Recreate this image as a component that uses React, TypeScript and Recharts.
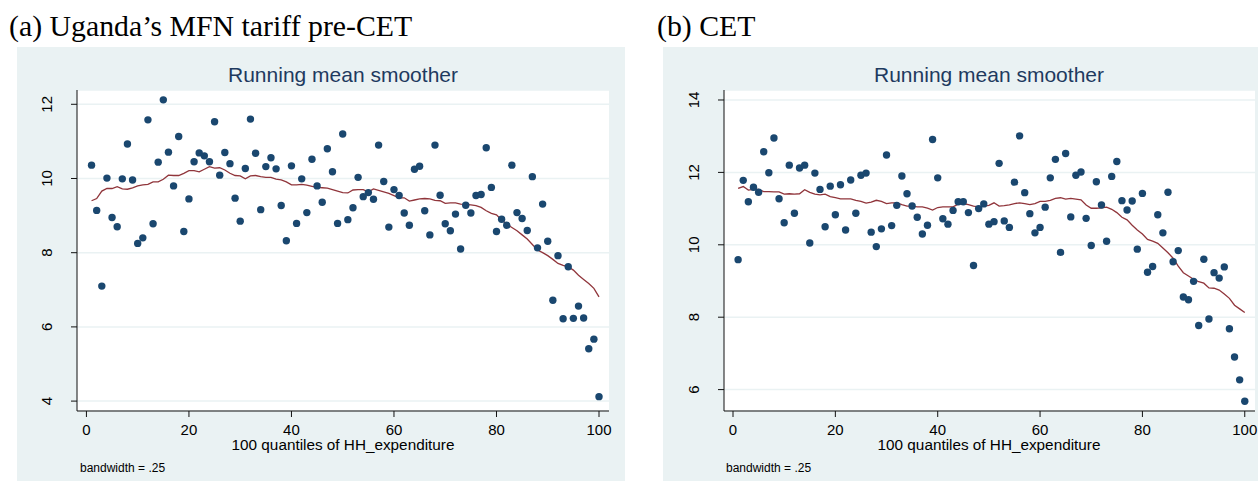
import React from "react";
import { ComposedChart, Scatter, Line, XAxis, YAxis, CartesianGrid } from "recharts";

const QUANTILES = [1,2,3,4,5,6,7,8,9,10,11,12,13,14,15,16,17,18,19,20,21,22,23,24,25,26,27,28,29,30,31,32,33,34,35,36,37,38,39,40,41,42,43,44,45,46,47,48,49,50,51,52,53,54,55,56,57,58,59,60,61,62,63,64,65,66,67,68,69,70,71,72,73,74,75,76,77,78,79,80,81,82,83,84,85,86,87,88,89,90,91,92,93,94,95,96,97,98,99,100];

const MFN_DOTS = [10.36,9.14,7.10,10.01,8.95,8.70,9.99,10.93,9.96,8.25,8.40,11.58,8.78,10.44,12.12,10.71,9.80,11.13,8.57,9.45,10.45,10.69,10.61,10.45,11.53,10.09,10.70,10.40,9.47,8.85,10.27,11.60,10.68,9.16,10.32,10.56,10.26,9.27,8.32,10.34,8.79,9.99,9.08,10.52,9.80,9.36,10.80,10.18,8.79,11.20,8.89,9.21,10.03,9.51,9.62,9.44,10.90,9.92,8.69,9.70,9.54,9.07,8.74,10.25,10.33,9.13,8.48,10.90,9.55,8.78,8.59,9.04,8.10,9.28,9.07,9.54,9.57,10.83,9.76,8.57,8.90,8.74,10.36,9.08,8.92,8.60,10.05,8.13,9.31,8.31,6.72,7.92,6.22,7.62,6.23,6.56,6.24,5.41,5.67,4.12];

const MFN_SMOOTH = [9.40,9.46,9.66,9.73,9.73,9.78,9.72,9.71,9.75,9.80,9.83,9.84,9.91,9.91,9.98,10.09,10.08,10.08,10.14,10.21,10.21,10.18,10.25,10.32,10.28,10.29,10.23,10.14,10.08,10.07,9.99,10.07,10.08,10.05,10.03,10.03,9.98,9.96,9.91,9.83,9.83,9.84,9.82,9.79,9.76,9.75,9.74,9.70,9.66,9.62,9.61,9.69,9.70,9.70,9.64,9.72,9.68,9.64,9.60,9.54,9.48,9.48,9.39,9.42,9.45,9.46,9.45,9.41,9.40,9.33,9.34,9.34,9.31,9.30,9.29,9.27,9.22,9.13,9.06,9.02,8.88,8.77,8.68,8.59,8.48,8.37,8.22,8.07,8.00,7.92,7.82,7.71,7.66,7.62,7.53,7.39,7.28,7.17,7.04,6.81];

const CET_DOTS = [9.59,11.78,11.19,11.59,11.45,12.57,11.99,12.95,11.27,10.61,12.20,10.87,12.12,12.20,10.05,11.98,11.53,10.50,11.62,10.83,11.66,10.41,11.79,10.87,11.92,11.98,10.35,9.95,10.44,12.48,10.53,11.09,11.90,11.41,11.07,10.76,10.30,10.54,12.91,11.85,10.72,10.57,10.95,11.19,11.19,10.89,9.43,11.00,11.13,10.57,10.64,12.25,10.66,10.48,11.73,13.01,11.44,10.86,10.33,10.48,11.04,11.85,12.36,9.79,12.52,10.77,11.92,12.01,10.73,9.98,11.74,11.10,10.10,11.89,12.30,11.22,10.96,11.21,9.88,11.42,9.24,9.40,10.83,10.33,11.45,9.53,9.84,8.56,8.48,8.99,7.77,9.60,7.95,9.23,9.08,9.39,7.68,6.90,6.27,5.68];

const CET_SMOOTH = [11.56,11.61,11.51,11.53,11.53,11.47,11.47,11.46,11.46,11.40,11.41,11.40,11.41,11.52,11.45,11.40,11.38,11.40,11.33,11.30,11.27,11.27,11.27,11.23,11.20,11.15,11.18,11.23,11.20,11.14,11.16,11.16,11.11,11.07,11.07,11.05,11.05,11.01,10.96,11.03,11.05,11.05,11.05,11.12,11.14,11.11,11.07,11.05,11.07,11.09,11.16,11.07,11.08,11.10,11.14,11.16,11.14,11.11,11.14,11.20,11.20,11.23,11.28,11.30,11.26,11.28,11.26,11.24,11.10,11.01,11.01,11.02,11.04,10.98,10.89,10.76,10.69,10.54,10.41,10.30,10.15,10.10,10.04,9.91,9.78,9.63,9.41,9.23,9.14,9.05,8.98,8.94,8.81,8.80,8.75,8.64,8.52,8.33,8.23,8.13];

const X_TICKS = [0, 20, 40, 60, 80, 100];
const MFN_Y_TICKS = [4, 6, 8, 10, 12];
const CET_Y_TICKS = [6, 8, 10, 12, 14];

const PANEL_BG = "#EAF2F3";
const DOT = "#1A476F";
const LINE = "#90353B";
const SANS = "'Liberation Sans', Arial, sans-serif";
const SERIF = "'Liberation Serif', 'Times New Roman', serif";

const buildRows = (dots: number[], smooth: number[]) =>
  QUANTILES.map((q, i) => ({ x: q, dot: dots[i], smooth: smooth[i] }));

const YTick = (props: any) => {
  const { x, y, payload } = props;
  const bx = x - 17;
  return (
    <text x={bx} y={y} transform={`rotate(-90 ${bx} ${y})`} textAnchor="middle" fontSize={15} fontFamily={SANS} fill="#000">
      {payload.value}
    </text>
  );
};

const XTick = (props: any) => {
  const { x, y, payload } = props;
  return (
    <text x={x} y={y + 16} textAnchor="middle" fontSize={15} fontFamily={SANS} fill="#000">
      {payload.value}
    </text>
  );
};

const Dot = (props: any) => {
  const { cx, cy } = props;
  if (cx == null || cy == null) return null;
  return <circle cx={cx} cy={cy} r={3.7} fill={DOT} />;
};

type PanelProps = {
  left: number;
  width: number;
  rows: any[];
  xDomain: [number, number];
  yDomain: [number, number];
  yTicks: number[];
  yAxisWidth: number;
  rightMargin: number;
};

const Panel = ({ left, width, rows, xDomain, yDomain, yTicks, yAxisWidth, rightMargin }: PanelProps) => (
  <div style={{ position: "absolute", left, top: 47, width, height: 434, background: PANEL_BG }}>
    <ComposedChart
      width={width}
      height={434}
      data={rows}
      margin={{ top: 43, right: rightMargin, bottom: 40, left: 0 }}
    >
      <CartesianGrid vertical={false} horizontal={true} fill="#FFFFFF" stroke={PANEL_BG} strokeWidth={1.5} />
      <XAxis
        type="number"
        dataKey="x"
        domain={xDomain}
        ticks={X_TICKS}
        allowDataOverflow
        height={30}
        tickSize={6}
        tickMargin={2}
        axisLine={{ stroke: "#111", strokeWidth: 1 }}
        tickLine={{ stroke: "#111", strokeWidth: 1 }}
        tick={<XTick />}
      />
      <YAxis
        type="number"
        domain={yDomain}
        ticks={yTicks}
        allowDataOverflow
        width={yAxisWidth}
        tickSize={6}
        tickMargin={2}
        axisLine={{ stroke: "#111", strokeWidth: 1 }}
        tickLine={{ stroke: "#111", strokeWidth: 1 }}
        tick={<YTick />}
      />
      <Scatter dataKey="dot" shape={<Dot />} isAnimationActive={false} />
      <Line
        type="linear"
        dataKey="smooth"
        stroke={LINE}
        strokeWidth={1.3}
        dot={false}
        activeDot={false}
        isAnimationActive={false}
      />
    </ComposedChart>
  </div>
);

export default function App() {
  const mfnRows = buildRows(MFN_DOTS, MFN_SMOOTH);
  const cetRows = buildRows(CET_DOTS, CET_SMOOTH);
  return (
    <div style={{ position: "absolute", left: 0, top: 0, width: 1258, height: 481, background: "#FFFFFF", overflow: "hidden" }}>
      <Panel
        left={17}
        width={608}
        rows={mfnRows}
        xDomain={[-1.84, 101.95]}
        yDomain={[3.733, 12.385]}
        yTicks={MFN_Y_TICKS}
        yAxisWidth={60}
        rightMargin={16}
      />
      <Panel
        left={663}
        width={595}
        rows={cetRows}
        xDomain={[-1.76, 102.0]}
        yDomain={[5.409, 14.276]}
        yTicks={CET_Y_TICKS}
        yAxisWidth={61}
        rightMargin={3}
      />
      <svg width={1258} height={481} style={{ position: "absolute", left: 0, top: 0, pointerEvents: "none" }}>
        <text x={9} y={36} fontFamily={SERIF} fontSize={29.8} fill="#000">(a) Uganda’s MFN tariff pre-CET</text>
        <text x={657} y={36} fontFamily={SERIF} fontSize={29.8} fill="#000">(b) CET</text>
        <text x={343} y={82} textAnchor="middle" fontFamily={SANS} fontSize={21} fill="#1E3A5F">Running mean smoother</text>
        <text x={989} y={82} textAnchor="middle" fontFamily={SANS} fontSize={21} fill="#1E3A5F">Running mean smoother</text>
        <text x={343} y={450} textAnchor="middle" fontFamily={SANS} fontSize={15.3} fill="#000">100 quantiles of HH_expenditure</text>
        <text x={989} y={450} textAnchor="middle" fontFamily={SANS} fontSize={15.3} fill="#000">100 quantiles of HH_expenditure</text>
        <text x={80} y={472} fontFamily={SANS} fontSize={12} fill="#000">bandwidth = .25</text>
        <text x={726} y={472} fontFamily={SANS} fontSize={12} fill="#000">bandwidth = .25</text>
      </svg>
    </div>
  );
}
